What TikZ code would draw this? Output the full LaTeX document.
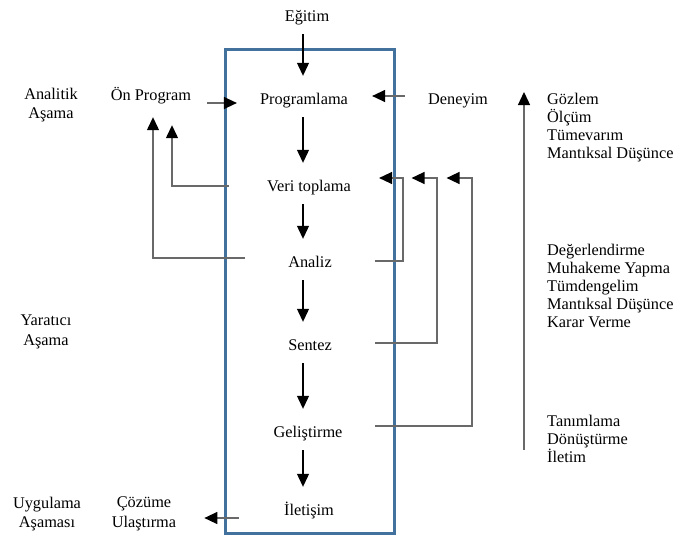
\documentclass[tikz,border=0pt]{standalone}
\usepackage{fontspec}
\setmainfont{Liberation Serif}
\newfontfamily\diagfont{Liberation Serif}
\usetikzlibrary{arrows.meta}
\definecolor{frameblue}{RGB}{65,113,156}
\definecolor{linkgray}{RGB}{105,105,105}
\begin{document}
\begin{tikzpicture}[x=1pt,y=-1pt,
  every node/.style={font=\diagfont\fontsize{16.3}{18}\selectfont, inner sep=0pt},
  stage/.style={anchor=base, text height=12pt, text depth=4pt},
  tip/.style={-{Triangle[width=12pt,length=13pt,color=black]}},
  flow/.style={tip, line width=1.1pt, draw=black, shorten <=9pt, shorten >=16pt},
  link/.style={tip, line width=1.3pt, draw=linkgray},
  caption/.style={align=center, font=\diagfont\fontsize{16.3}{19.5}\selectfont},
  list/.style={align=left, anchor=base west}]
\useasboundingbox (0,0) rectangle (676,541);

% frame around the process stages
\draw[frameblue, line width=3pt] (225,49) rectangle (394,533);

% process stages
\node[stage] (egitim) at (307,21)  {Eğitim};
\node[stage] (prog)   at (304,104) {Programlama};
\node[stage] (veri)   at (309,191) {Veri toplama};
\node[stage] (analiz) at (310,267) {Analiz};
\node[stage] (sentez) at (310,350) {Sentez};
\node[stage] (gelis)  at (308,437) {Geliştirme};
\node[stage] (ilet)   at (309,515) {İletişim};

% inputs and outputs
\node[stage] (onprog)  at (151,100) {Ön Program};
\node[stage] (deneyim) at (458,104) {Deneyim};
\node[caption] (cozum) at (144,514) {Çözüme\\Ulaştırma};

% phase names
\node[caption] (analitik) at (51,105) {Analitik\\Aşama};
\node[caption] (yaratici) at (46,332) {Yaratıcı\\Aşama};
\node[caption] (uygulama) at (47,514) {Uygulama\\Aşaması};

% thinking skills (base anchor sits on the last line)
\node[list] (skillsA) at (547,158) {Gözlem\\Ölçüm\\Tümevarım\\Mantıksal Düşünce};
\node[list] (skillsB) at (547,327) {Değerlendirme\\Muhakeme Yapma\\Tümdengelim\\Mantıksal Düşünce\\Karar Verme};
\node[list] (skillsC) at (547,462) {Tanımlama\\Dönüştürme\\İletim};

% main flow down the column
\coordinate (col) at (303,0);
\draw[flow] (egitim.south -| col) -- (prog.north -| col);
\draw[flow] (prog.south -| col)   -- (veri.north -| col);
\draw[flow] (veri.south -| col)   -- (analiz.north -| col);
\draw[flow] (analiz.south -| col) -- (sentez.north -| col);
\draw[flow] (sentez.south -| col) -- (gelis.north -| col);
\draw[flow] (gelis.south -| col)  -- (ilet.north -| col);

% side inputs into Programlama
\coordinate (opOut) at ([shift={(16pt,-3pt)}]onprog.base east);
\draw[link, shorten >=23pt] (opOut) -- (opOut -| prog.west);
\coordinate (dnOut) at ([shift={(-23pt,8pt)}]deneyim.base west);
\draw[link, shorten >=24pt] (dnOut) -- (dnOut -| prog.east);

% feedback to Ön Program
\coordinate (vL) at ([shift={(-38pt,5pt)}]veri.base west);
\draw[link, shorten >=21pt] (vL) -| ([xshift=21pt]onprog.south);
\coordinate (aL) at ([shift={(-43pt,9pt)}]analiz.base west);
\draw[link, shorten >=13pt] (aL) -| ([xshift=2pt]onprog.south);

% feedback to Veri toplama
\coordinate (aR) at ([shift={(43pt,6pt)}]analiz.base east);
\coordinate (sR) at ([yshift=7pt]sentez.base -| aR);
\coordinate (gR) at ([yshift=11pt]gelis.base -| aR);
\coordinate (vR) at ([yshift=13pt]veri.base east);
\coordinate (busA) at (403,0);
\coordinate (busS) at (437,0);
\coordinate (busG) at (472,0);
\draw[link, shorten >=28pt]   (aR) -| (busA |- vR) -- (vR);
\draw[link, shorten >=60.5pt] (sR) -| (busS |- vR) -- (vR);
\draw[link, shorten >=95.5pt] (gR) -| (busG |- vR) -- (vR);

% output of İletişim
\coordinate (iL) at ([shift={(-45pt,-3pt)}]ilet.base west);
\draw[link, shorten >=28pt] (iL) -- (iL -| cozum.east);

% skill axis
\coordinate (axisLow)  at (524,450);
\coordinate (axisHigh) at (524,92);
\draw[link] (axisLow) -- (axisHigh);
\end{tikzpicture}
\end{document}
